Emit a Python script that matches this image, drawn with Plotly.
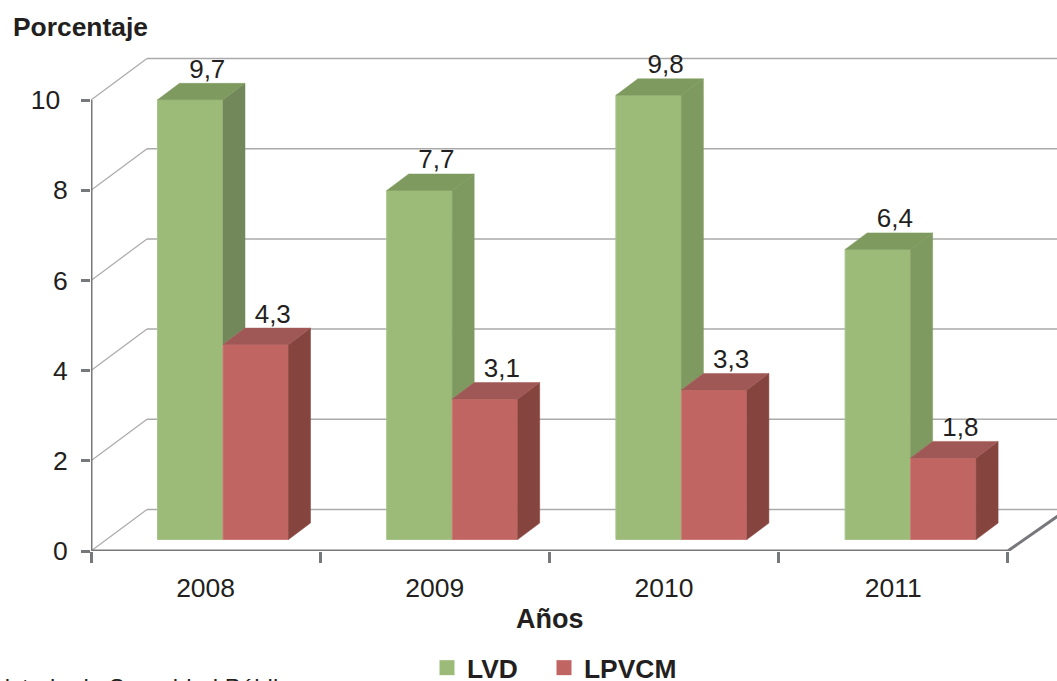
import plotly.graph_objects as go

# ---- data ----
years = ["2008", "2009", "2010", "2011"]
lvd = [9.7, 7.7, 9.8, 6.4]
lpvcm = [4.3, 3.1, 3.3, 1.8]
y_ticks = [0, 2, 4, 6, 8, 10]

# ---- geometry (pixels of the page -> axis units) ----
W, H = 1057, 681
L, B, T = 91, 130, 40
CAT_PX, UNIT_PX = 229.2, 45.1
PW, PH = W - L, H - B - T
x_range = [-0.5, -0.5 + PW / CAT_PX]
y_range = [0, PH / UNIT_PX]
px = lambda p: p / CAT_PX
py = lambda p: p / UNIT_PX
WALL_DX, WALL_DY = px(56), py(41.5)
BAR_DX, BAR_DY = px(22), py(16.5)
BASE = py(11.5)
SCALE = 1.005
BAR_W = px(65.5)
GROUP_OFF = px(66.5)
x_end = len(years) - 0.5

GREEN = "#9cbb78"; GREEN_TOP = "#7f9a5f"
GREEN_SIDES = ["#72875a", "#7f9a60", "#7f9a60", "#7f9a60"]
RED = "#c16562"; RED_TOP = "#9f5855"; RED_SIDE = "#86443f"
GRID = "#aaaaaa"; AXIS = "#77787b"; INK = "#231f20"
FONT = "Liberation Sans"


def top(v):
    return BASE + v * SCALE


def poly(xs, ys, color):
    return go.Scatter(x=xs + xs[:1], y=ys + ys[:1], mode="lines", fill="toself",
                      fillcolor=color, line=dict(color=color, width=0.5),
                      hoverinfo="skip", showlegend=False)


fig = go.Figure()

# front faces
x_g = [i - 0.5 + GROUP_OFF + BAR_W / 2 for i in range(len(years))]
x_r = [x + BAR_W for x in x_g]
fig.add_bar(x=x_g, y=[v * SCALE for v in lvd], base=BASE, width=BAR_W, name="LVD", showlegend=False,
            marker=dict(color=GREEN, line=dict(color="#a8c48a", width=1)), hoverinfo="skip")
fig.add_bar(x=x_r, y=[v * SCALE for v in lpvcm], base=BASE, width=BAR_W, name="LPVCM", showlegend=False,
            marker=dict(color=RED, line=dict(color="#cc7c79", width=1)), hoverinfo="skip")

# depth faces
for i in range(len(years)):
    gl, gr = x_g[i] - BAR_W / 2, x_g[i] + BAR_W / 2
    rl, rr = x_r[i] - BAR_W / 2, x_r[i] + BAR_W / 2
    tg, tr = top(lvd[i]), top(lpvcm[i])
    fig.add_trace(poly([gr, gr + BAR_DX, gr + BAR_DX, gr],
                       [tg, tg + BAR_DY, tr + BAR_DY, tr], GREEN_SIDES[i]))
    fig.add_trace(poly([gl, gl + BAR_DX, gr + BAR_DX, gr],
                       [tg, tg + BAR_DY, tg + BAR_DY, tg], GREEN_TOP))
    fig.add_trace(poly([rr, rr + BAR_DX, rr + BAR_DX, rr],
                       [tr, tr + BAR_DY, BASE + BAR_DY, BASE], RED_SIDE))
    fig.add_trace(poly([rl, rl + BAR_DX, rr + BAR_DX, rr],
                       [tr, tr + BAR_DY, tr + BAR_DY, tr], RED_TOP))

# data labels
lab_x = px(17)
lab_y = py(28.5)
fig.add_trace(go.Scatter(
    x=[x + lab_x for x in x_g] + [x + lab_x for x in x_r],
    y=[top(v) + lab_y for v in lvd + lpvcm],
    text=[f"{v:.1f}".replace(".", ",") for v in lvd + lpvcm],
    mode="text", textposition="middle center",
    textfont=dict(family=FONT, size=26, color=INK),
    cliponaxis=False, showlegend=False, hoverinfo="skip"))

# axis lines
fig.add_trace(go.Scatter(x=[-0.5, -0.5], y=[0, y_ticks[-1]], mode="lines",
                         line=dict(color=AXIS, width=3), cliponaxis=False,
                         showlegend=False, hoverinfo="skip"))
fig.add_trace(go.Scatter(x=[-0.5, x_end, x_end + px(50)], y=[0, 0, py(35)], mode="lines",
                         line=dict(color=AXIS, width=3), cliponaxis=False,
                         showlegend=False, hoverinfo="skip"))

# legend keys
for name, color, lg in (("LVD", GREEN, "legend"), ("LPVCM", RED, "legend2")):
    fig.add_trace(go.Scatter(x=[None], y=[None], mode="markers", name=name, legend=lg,
                             showlegend=True,
                             marker=dict(symbol="square", size=15, color=color),
                             hoverinfo="skip"))

# back wall: shapes sit below all traces
shapes = []
for v in y_ticks:
    shapes.append(dict(type="line", xref="x", yref="y", layer="below",
                       x0=-0.5 + WALL_DX, x1=x_range[1], y0=v + WALL_DY, y1=v + WALL_DY,
                       line=dict(color=GRID, width=1.5)))
    shapes.append(dict(type="line", xref="x", yref="y", layer="below",
                       x0=-0.5, x1=-0.5 + WALL_DX, y0=v, y1=v + WALL_DY,
                       line=dict(color=GRID, width=1.2)))


def legend_at(left):
    return dict(orientation="h", x=(left - L) / PW, xanchor="left", y=-(644 - (H - B)) / PH,
                yanchor="top", font=dict(family=FONT, size=26.4, color=INK, weight="bold"),
                bgcolor="rgba(0,0,0,0)", itemsizing="trace")


fig.update_layout(
    width=W, height=H, autosize=False,
    margin=dict(l=L, r=0, t=T, b=B, pad=0, autoexpand=False),
    paper_bgcolor="white", plot_bgcolor="white",
    barmode="overlay", shapes=shapes,
    font=dict(family=FONT, color=INK),
    xaxis=dict(range=x_range, tickmode="array", automargin=False,
               tickvals=list(range(len(years))), ticktext=years, ticks="",
               showgrid=False, zeroline=False, showline=False,
               ticklabelstandoff=18,
               tickfont=dict(family=FONT, size=26.5, color=INK),
               minor=dict(tickmode="array", tickvals=[i - 0.5 for i in range(len(years) + 1)],
                          ticks="outside", ticklen=11, tickwidth=2.5, tickcolor=AXIS,
                          showgrid=False)),
    yaxis=dict(range=y_range, tickmode="array", tickvals=y_ticks, automargin=False,
               ticktext=[f"{v}\u00a0" if v >= 10 else str(v) for v in y_ticks],
               ticks="outside", ticklen=9,
               tickwidth=2.5, tickcolor=AXIS, showgrid=False, zeroline=False,
               showline=False, ticklabelstandoff=8,
               tickfont=dict(family=FONT, size=26.5, color=INK)),
    legend=legend_at(427),
    legend2=legend_at(544),
    annotations=[
        dict(text="<b>Porcentaje</b>", xref="paper", yref="paper", showarrow=False,
             x=(10.5 - L) / PW, y=(H - B - 27) / PH, xanchor="left", yanchor="middle",
             font=dict(family=FONT, size=26.4, color=INK)),
        dict(text="<b>Años</b>", xref="paper", yref="paper", showarrow=False,
             x=(550 - L) / PW, y=-(619 - (H - B)) / PH, xanchor="center", yanchor="middle",
             font=dict(family=FONT, size=27, color=INK)),
        dict(text="Fuente: Ministerio de Seguridad Pública", xref="paper", yref="paper",
             showarrow=False, x=(306 - L) / PW, y=-(687 - (H - B)) / PH,
             xanchor="right", yanchor="middle",
             font=dict(family=FONT, size=24, color=INK)),
    ],
)

fig.write_html("out.html", post_script="document.body.style.margin='0';",
               config={"displayModeBar": False})
